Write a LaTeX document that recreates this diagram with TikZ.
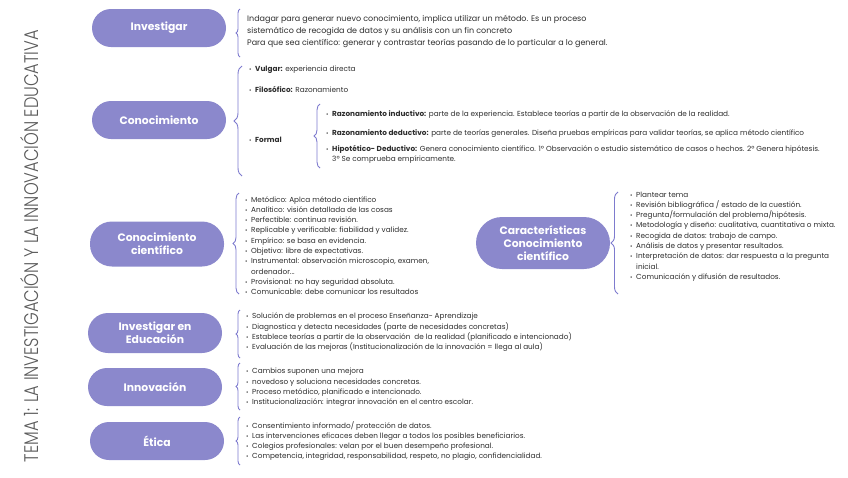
\documentclass[tikz,border=0pt]{standalone}
\usepackage{fontspec}
\usepackage{graphicx}
\setmainfont{Poppins}
\IfFontExistsTF{Poppins Light}{\newfontfamily\titfont{Poppins Light}}{\newfontfamily\titfont{Poppins}}
\usetikzlibrary{decorations.pathreplacing}
\definecolor{pill}{RGB}{139,136,204}
\definecolor{llave}{RGB}{126,123,206}
\definecolor{txtgray}{RGB}{45,45,45}
\definecolor{titgray}{RGB}{90,90,90}
\newcommand{\bul}{\makebox[6pt][l]{\scalebox{0.8}{\textbullet}}}
\newcommand{\sig}{\hspace*{6pt}}

\begin{document}
\begin{tikzpicture}[x=1pt, y=-1pt,
    tema/.style={fill=pill, rounded corners=19pt, minimum width=134pt, minimum height=38pt,
      inner sep=0pt, align=center, text=white, font=\fontsize{10.8}{13}\selectfont\bfseries},
    lista/.style={anchor=west, align=left, inner sep=0pt, text=txtgray,
      font=\fontsize{7.3}{10.3}\selectfont},
    llaves/.style={draw=llave, line width=0.9pt, decorate, decoration={brace, amplitude=#1}},
    llaves/.default=5pt]
  \useasboundingbox (0,0) rectangle (848,477);

  \node[rotate=90, text=titgray] (titulo) at (30,246)
       {\resizebox{432pt}{18pt}{\titfont TEMA 1: LA INVESTIGACIÓN Y LA INNOVACIÓN EDUCATIVA}};

  \node[tema] (investigar) at (159,28) {Investigar};
  \node[tema] (conocimiento) at (159,120) {Conocimiento};
  \node[tema, minimum height=45pt, rounded corners=22pt] (cientifico) at (157,244) {Conocimiento\\científico};
  \node[tema, minimum height=40pt, rounded corners=20pt] (educacion) at (155,333) {Investigar en\\Educación};
  \node[tema] (innovacion) at (155,387) {Innovación};
  \node[tema] (etica) at (157,441) {Ética};
  \node[tema, minimum height=52pt, rounded corners=26pt] (caracteristicas) at (543,243)
       {Características\\Conocimiento\\científico};

  % llaves
  \coordinate (ia) at (240,57);   \coordinate (ib) at (240,9);
  \coordinate (ca) at (242,176);  \coordinate (cb) at (242,66);
  \coordinate (fa) at (320,168);  \coordinate (fb) at (320,104);
  \coordinate (sa) at (239,294);  \coordinate (sb) at (239,193);
  \coordinate (ka) at (618,294);  \coordinate (kb) at (618,192);
  \coordinate (ea) at (240,358);  \coordinate (eb) at (240,310);
  \coordinate (na) at (240,410);  \coordinate (nb) at (240,363);
  \coordinate (ta) at (240,465);  \coordinate (tb) at (240,417);
  \draw[llaves=4pt] (ia) -- (ib);
  \draw[llaves=8pt] (ca) -- (cb);
  \draw[llaves=6pt] (fa) -- (fb);
  \draw[llaves=6pt] (sa) -- (sb);
  \draw[llaves=7pt] (ka) -- (kb);
  \draw[llaves=4pt] (ea) -- (eb);
  \draw[llaves=4pt] (na) -- (nb);
  \draw[llaves=4pt] (ta) -- (tb);

  \node[lista, font=\fontsize{8}{12}\selectfont] (t-inv) at (247,31)
       {Indagar para generar nuevo conocimiento, implica utilizar un método. Es un proceso\\
        sistemático de recogida de datos y su análisis con un fin concreto\\
        Para que sea científico: generar y contrastar teorías pasando de lo particular a lo general.};

  \node[lista] (vulgar) at (249,70) {\bul\textbf{Vulgar:} experiencia directa};
  \node[lista] (filosofico) at (249,89) {\bul\textbf{Filosófico:} Razonamiento};
  \node[lista] (formal) at (249,140) {\bul\textbf{Formal}};
  \node[lista] (inductivo) at (326,115)
       {\bul\textbf{Razonamiento inductivo:} parte de la experiencia. Establece teorías a partir de la observación de la realidad.};
  \node[lista] (deductivo) at (326,134)
       {\bul\textbf{Razonamiento deductivo:} parte de teorías generales. Diseña pruebas empíricas para validar teorías, se aplica método científico};
  \node[lista] (hipotetico) at (326,154.5)
       {\bul\textbf{Hipotético- Deductivo:} Genera conocimiento científico. 1º Observación o estudio sistemático de casos o hechos. 2º Genera hipótesis.\\
        \sig 3º Se comprueba empíricamente.};

  \node[lista] (t-cien) at (245,245.5)
       {\bul Metódico: Aplca método científico\\
        \bul Analítico: visión detallada de las cosas\\
        \bul Perfectible: continua revisión.\\
        \bul Replicable y verificable: fiabilidad y validez.\\
        \bul Empírico: se basa en evidencia.\\
        \bul Objetivo: libre de expectativas.\\
        \bul Instrumental: observación microscopio, examen,\\
        \sig ordenador...\\
        \bul Provisional: no hay seguridad absoluta.\\
        \bul Comunicable: debe comunicar los resultados};

  \node[lista] (t-car) at (630,236.5)
       {\bul Plantear tema\\
        \bul Revisión bibliográfica / estado de la cuestión.\\
        \bul Pregunta/formulación del problema/hipótesis.\\
        \bul Metodología y diseño: cualitativa, cuantitativa o mixta.\\
        \bul Recogida de datos: trabajo de campo.\\
        \bul Análisis de datos y presentar resultados.\\
        \bul Interpretación de datos: dar respuesta a la pregunta\\
        \sig inicial.\\
        \bul Comunicación y difusión de resultados.};

  \node[lista] (t-edu) at (246,332.5)
       {\bul Solución de problemas en el proceso Enseñanza- Aprendizaje\\
        \bul Diagnostica y detecta necesidades (parte de necesidades concretas)\\
        \bul Establece teorías a partir de la observación \ de la realidad (planificado e intencionado)\\
        \bul Evaluación de las mejoras (Institucionalización de la innovación = llega al aula)};

  \node[lista] (t-inn) at (246,387.5)
       {\bul Cambios suponen una mejora\\
        \bul novedoso y soluciona necesidades concretas.\\
        \bul Proceso metódico, planificado e intencionado.\\
        \bul Institucionalización: integrar innovación en el centro escolar.};

  \node[lista] (t-eti) at (246,441)
       {\bul Consentimiento informado/ protección de datos.\\
        \bul Las intervenciones eficaces deben llegar a todos los posibles beneficiarios.\\
        \bul Colegios profesionales: velan por el buen desempeño profesional.\\
        \bul Competencia, integridad, responsabilidad, respeto, no plagio, confidencialidad.};
\end{tikzpicture}
\end{document}
